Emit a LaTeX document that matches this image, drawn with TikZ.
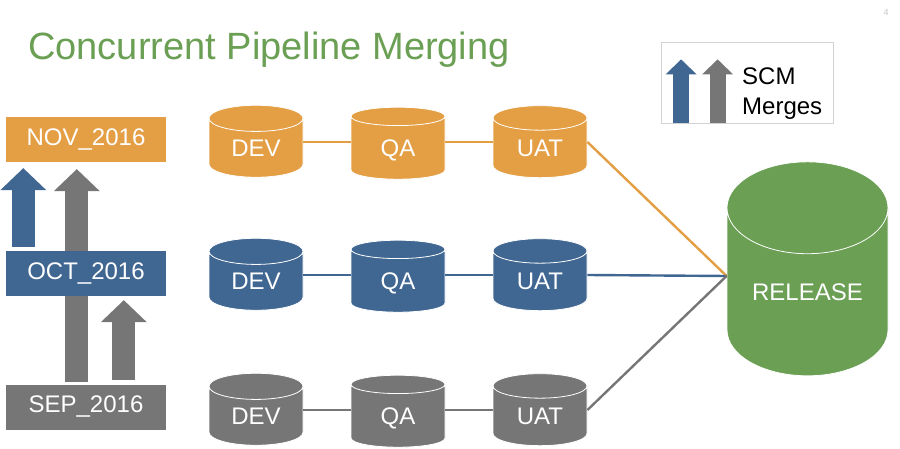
\documentclass[tikz,border=0pt]{standalone}
\usepackage{fontspec}
\setmainfont{Liberation Sans}
\usetikzlibrary{shapes.geometric,arrows.meta,backgrounds}
\definecolor{relorange}{RGB}{228,158,68}
\definecolor{relblue}{RGB}{64,102,146}
\definecolor{relgray}{RGB}{118,118,118}
\definecolor{relgreen}{RGB}{106,159,84}

\begin{document}
\begin{tikzpicture}[x=1pt, y=1pt,
  every node/.style = {font=\fontsize{24}{27}\selectfont, text=white, inner sep=0pt},
  branch/.style = {rectangle, fill=#1, minimum width=160pt, minimum height=45pt},
  env/.style = {cylinder, shape border rotate=90, draw=white, line width=0.8pt,
    fill=#1, minimum width=94pt, minimum height=72pt, aspect=0.53,
    text height=17pt, text depth=0pt},
  pipe/.style = {line width=2.4pt, draw=#1},
  merge/.style = {line width=23pt, draw=#1,
    -{Triangle[length=22pt, width=46pt, line width=0pt]}},
  legendarrow/.style = {line width=16pt, draw=#1,
    -{Triangle[length=15pt, width=31pt, line width=0pt]}}]
  \useasboundingbox (0,0) rectangle (900,448);

  % title and page number
  \node[anchor=base west, text=relgreen, font=\fontsize{38}{40}\selectfont]
    (title) at (28,388) {Concurrent Pipeline Merging};
  \node[text=gray!45, font=\fontsize{9}{10}\selectfont] (page) at (886,436) {4};

  % legend
  \node[draw=gray!35, line width=0.8pt, minimum width=172pt,
    minimum height=81pt] (legend) at (747,365.5) {};
  \draw[legendarrow=relblue] ([xshift=20.5pt]legend.south west) -- ++(0,64);
  \draw[legendarrow=relgray] ([xshift=57pt]legend.south west) -- ++(0,64);
  \node[anchor=west, text=black, align=left, font=\fontsize{24}{30}\selectfont]
    (scm) at (742,354) {SCM\\Merges};

  % branches
  \node[branch=relorange] (nov) at (86,308.5) {NOV\_2016};
  \node[branch=relblue] (oct) at (86,174.5) {OCT\_2016};
  \node[branch=relgray] (sep) at (86,41) {SEP\_2016};

  \begin{scope}[on background layer]
    \draw[merge=relblue] ([xshift=17.5pt, yshift=4pt]oct.north west)
      -- ([xshift=17.5pt, yshift=-6pt]nov.south west);
    \draw[merge=relgray] ([xshift=71pt, yshift=2pt]sep.north west)
      -- ([xshift=71pt, yshift=-7pt]nov.south west);
    \draw[merge=relgray] ([xshift=118pt, yshift=4pt]sep.north west)
      -- ([xshift=118pt, yshift=-4pt]oct.south west);
  \end{scope}

  % pipelines
  \node[env=relorange] (dev1) at (256,300) {DEV};
  \node[env=relorange] (qa1) at (398,300) {QA};
  \node[env=relorange] (uat1) at (540,300) {UAT};

  \node[env=relblue] (dev2) at (256,167) {DEV};
  \node[env=relblue] (qa2) at (398,167) {QA};
  \node[env=relblue] (uat2) at (540,167) {UAT};

  \node[env=relgray] (dev3) at (256,32) {DEV};
  \node[env=relgray] (qa3) at (398,32) {QA};
  \node[env=relgray] (uat3) at (540,32) {UAT};

  \node[env=relgreen, minimum width=161pt, minimum height=214pt, aspect=0.83]
    (release) at (807.5,156) {RELEASE};
  \coordinate (merge in) at ([yshift=16pt]release.west);

  \draw[pipe=relorange] ([yshift=6pt]dev1.east) -- ([yshift=6pt]qa1.west);
  \draw[pipe=relorange] ([yshift=6pt]qa1.east) -- ([yshift=6pt]uat1.west);
  \draw[pipe=relorange] ([yshift=6pt]uat1.east) -- (merge in);
  \draw[pipe=relblue] ([yshift=6pt]dev2.east) -- ([yshift=6pt]qa2.west);
  \draw[pipe=relblue] ([yshift=6pt]qa2.east) -- ([yshift=6pt]uat2.west);
  \draw[pipe=relblue] ([yshift=6pt]uat2.east) -- (merge in);
  \draw[pipe=relgray] ([yshift=6pt]dev3.east) -- ([yshift=6pt]qa3.west);
  \draw[pipe=relgray] ([yshift=6pt]qa3.east) -- ([yshift=6pt]uat3.west);
  \draw[pipe=relgray] ([yshift=6pt]uat3.east) -- (merge in);
\end{tikzpicture}
\end{document}
